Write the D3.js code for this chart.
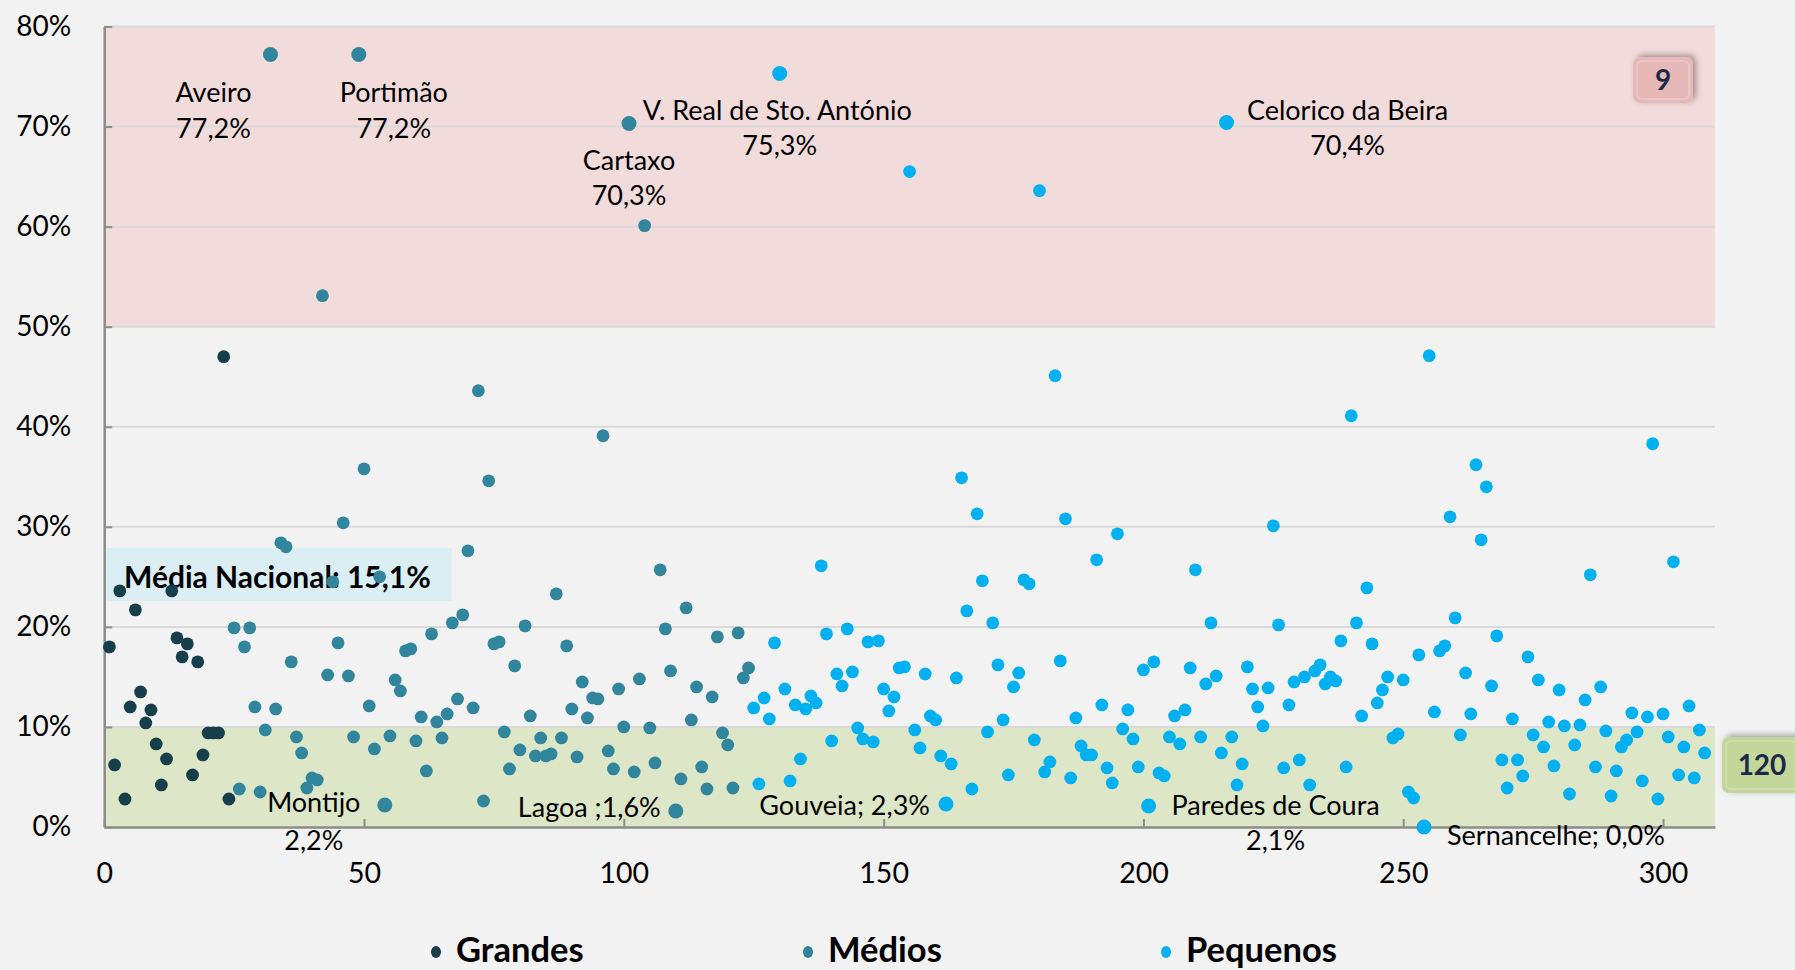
<!DOCTYPE html>
<html>
<head>
<meta charset="utf-8">
<script src="https://cdn.jsdelivr.net/npm/d3@7"></script>
<style>
  html, body { margin: 0; padding: 0; background: #F2F2F2; }
  svg { display: block; font-family: Lato, "Open Sans", sans-serif; }
</style>
</head>
<body>
<svg id="chart" width="1795" height="970"></svg>
<script>
// ---------------- DATA ----------------
// Percentages per municipality, ordered by rank index (1..308), grouped by size
const grandes = [18.0, 6.2, 23.6, 2.8, 12.0, 21.7, 13.5, 10.4, 11.7, 8.3, 4.2, 6.8, 23.6, 18.9, 17.0, 18.3, 5.2, 16.5, 7.2, 9.4, 9.4, 9.4, 47.0, 2.8];

const medios = [
  19.9, 3.8, 18.0, 19.9, 12.0, 3.5, 9.7, 77.2, 11.8, 28.4,
  28.0, 16.5, 9.0, 7.4, 3.9, 4.9, 4.7, 53.1, 15.2, 24.5,
  18.4, 30.4, 15.1, 9.0, 77.2, 35.8, 12.1, 7.8, 25.0, 2.2,
  9.1, 14.7, 13.6, 17.6, 17.8, 8.6, 11.0, 5.6, 19.3, 10.5,
  8.9, 11.3, 20.4, 12.8, 21.2, 27.6, 11.9, 43.6, 2.6, 34.6,
  18.3, 18.5, 9.5, 5.8, 16.1, 7.7, 20.1, 11.1, 7.1, 8.9,
  7.1, 7.3, 23.3, 8.9, 18.1, 11.8, 7.0, 14.5, 10.9, 12.9,
  12.8, 39.1, 7.6, 5.8, 13.8, 10.0, 70.3, 5.5, 14.8, 60.1,
  9.9, 6.4, 25.7, 19.8, 15.6, 1.6, 4.8, 21.9, 10.7, 14.0,
  6.0, 3.8, 13.0, 19.0, 9.4, 8.2, 3.9, 19.4, 14.9, 15.9
];

const pequenos = [
  11.9, 4.3, 12.9, 10.8, 18.4, 75.3, 13.8, 4.6, 12.2, 6.8,
  11.8, 13.1, 12.4, 26.1, 19.3, 8.6, 15.3, 14.1, 19.8, 15.5,
  9.9, 8.8, 18.5, 8.5, 18.6, 13.8, 11.6, 13.0, 15.9, 16.0,
  65.5, 9.7, 7.9, 15.3, 11.1, 10.7, 7.1, 2.3, 6.3, 14.9,
  34.9, 21.6, 3.8, 31.3, 24.6, 9.5, 20.4, 16.2, 10.7, 5.2,
  14.0, 15.4, 24.7, 24.3, 8.7, 63.6, 5.5, 6.5, 45.1, 16.6,
  30.8, 4.9, 10.9, 8.1, 7.2, 7.2, 26.7, 12.2, 5.9, 4.4,
  29.3, 9.8, 11.7, 8.8, 6.0, 15.7, 2.1, 16.5, 5.4, 5.1,
  9.0, 11.1, 8.3, 11.7, 15.9, 25.7, 9.0, 14.3, 20.4, 15.1,
  7.4, 70.4, 9.0, 4.2, 6.3, 16.0, 13.8, 12.0, 10.1, 13.9,
  30.1, 20.2, 5.9, 12.2, 14.5, 6.7, 15.0, 4.2, 15.6, 16.2,
  14.3, 15.0, 14.6, 18.6, 6.0, 41.1, 20.4, 11.1, 23.9, 18.3,
  12.4, 13.7, 15.0, 8.9, 9.3, 14.7, 3.5, 2.9, 17.2, 0.0,
  47.1, 11.5, 17.6, 18.1, 31.0, 20.9, 9.2, 15.4, 11.3, 36.2,
  28.7, 34.0, 14.1, 19.1, 6.7, 3.9, 10.8, 6.7, 5.1, 17.0,
  9.2, 14.7, 8.0, 10.5, 6.1, 13.7, 10.1, 3.3, 8.2, 10.2,
  12.7, 25.2, 6.0, 14.0, 9.6, 3.1, 5.6, 8.0, 8.7, 11.4,
  9.5, 4.6, 11.0, 38.3, 2.8, 11.3, 9.0, 26.5, 5.2, 8.0,
  12.1, 4.9, 9.7, 7.4
];

const seriesNames = ["Grandes", "Médios", "Pequenos"];
const yTicks = [0, 10, 20, 30, 40, 50, 60, 70, 80];
const xTicks = [0, 50, 100, 150, 200, 250, 300];

// Highlighted municipalities (rank index, name, value text)
const hlIndex = [32, 49, 101, 130, 216, 54, 110, 162, 201, 254];
const hlName  = ["Aveiro", "Portimão", "Cartaxo", "V. Real de Sto. António", "Celorico da Beira",
                 "Montijo", "Lagoa", "Gouveia", "Paredes de Coura", "Sernancelhe"];
const hlValue = ["77,2%", "77,2%", "70,3%", "75,3%", "70,4%", "2,2%", "1,6%", "2,3%", "2,1%", "0,0%"];

const nationalAvgLabel = "Média Nacional: 15,1%";
const countAbove50 = "9";
const countBelow10 = "120";

// ---------------- LAYOUT ----------------
const W = 1795, H = 970;
const plot = { left: 104.2, right: 1715, top: 26.5, bottom: 827 };
const colors = { Grandes: "#173F4B", "Médios": "#31859C", Pequenos: "#00B0F0" };

const svg = d3.select("#chart");
const x = d3.scaleLinear().domain([0, 310]).range([plot.left, plot.right]);
const y = d3.scaleLinear().domain([0, 80]).range([plot.bottom, plot.top]);

// defs: shadow for count boxes
const defs = svg.append("defs");
const f = defs.append("filter").attr("id", "shadow").attr("x", "-30%").attr("y", "-40%").attr("width", "170%").attr("height", "180%");
f.append("feDropShadow").attr("dx", 3).attr("dy", -2).attr("stdDeviation", 3).attr("flood-color", "#000").attr("flood-opacity", 0.35);

// background
svg.append("rect").attr("width", W).attr("height", H).attr("fill", "#F2F2F2");

// bands
svg.append("rect")
  .attr("x", x(0)).attr("y", y(80)).attr("width", x(310) - x(0)).attr("height", y(50) - y(80))
  .attr("fill", "#F2DCDB");
svg.append("rect")
  .attr("x", x(0)).attr("y", y(10)).attr("width", x(310) - x(0)).attr("height", y(0) - y(10))
  .attr("fill", "#DDE7C7");

// gridlines
svg.append("g").selectAll("line").data(yTicks.filter(d => d > 0)).join("line")
  .attr("x1", x(0)).attr("x2", x(310))
  .attr("y1", d => y(d)).attr("y2", d => y(d))
  .attr("stroke", "#D9D9D9").attr("stroke-width", 2);

// axes
const yAxis = d3.axisLeft(y).tickValues(yTicks).tickFormat(d => d + "%")
  .tickSizeInner(-8).tickSizeOuter(0).tickPadding(33);
const gy = svg.append("g").attr("transform", `translate(${x(0)},0)`).call(yAxis);
gy.select(".domain").attr("stroke", "#8C8C8C").attr("stroke-width", 2.5);
gy.selectAll(".tick line").attr("stroke", "#8C8C8C").attr("stroke-width", 2);
gy.selectAll(".tick text").attr("font-size", 28).attr("fill", "#000").attr("font-family", "Lato");

const xAxis = d3.axisBottom(x).tickValues(xTicks).tickFormat(d3.format("d"))
  .tickSizeInner(-8).tickSizeOuter(0).tickPadding(36);
const gx = svg.append("g").attr("transform", `translate(0,${y(0)})`).call(xAxis);
gx.select(".domain").attr("stroke", "#8C8C8C").attr("stroke-width", 2.5);
gx.selectAll(".tick line").attr("stroke", "#8C8C8C").attr("stroke-width", 2);
gx.selectAll(".tick text").attr("font-size", 28.5).attr("fill", "#000").attr("font-family", "Lato");

// national average label box
svg.append("rect")
  .attr("x", 106.7).attr("y", 548).attr("width", 345).attr("height", 53)
  .attr("fill", "#DAEEF3");
svg.append("text")
  .attr("x", 124).attr("y", 588)
  .attr("font-size", 30).attr("font-weight", "bold").attr("fill", "#000")
  .text(nationalAvgLabel);

// points
const points = [];
grandes.forEach((v, i) => points.push({ idx: i + 1, v, s: "Grandes" }));
medios.forEach((v, i) => points.push({ idx: grandes.length + i + 1, v, s: "Médios" }));
pequenos.forEach((v, i) => points.push({ idx: grandes.length + medios.length + i + 1, v, s: "Pequenos" }));

svg.append("g").selectAll("circle").data(points).join("circle")
  .attr("cx", d => x(d.idx)).attr("cy", d => y(d.v))
  .attr("r", d => hlIndex.includes(d.idx) ? 7.5 : 6.4)
  .attr("fill", d => colors[d.s]);

// annotation labels
const byIdx = Object.fromEntries(points.map(p => [p.idx, p]));
const lblStyle = (t) => t.attr("font-size", 27).attr("fill", "#000");
const labelLayout = {
  "Aveiro":                  { a: "middle", dx: -57, dy1: 47,  dy2: 83 },
  "Portimão":                { a: "middle", dx: 35,  dy1: 47,  dy2: 83 },
  "Cartaxo":                 { a: "middle", dx: 0,   dy1: 46,  dy2: 81 },
  "V. Real de Sto. António": { a: "middle", dx: 0,   dy1: 46,  dy2: 81, l1x: "start", l1dx: -137 },
  "Celorico da Beira":       { a: "middle", dx: 121, dy1: -3,  dy2: 32 },
  "Montijo":                 { a: "middle", dx: -71, dy1: 7,   dy2: 45 },
  "Lagoa":                   { a: "end",    dx: -15, dy1: 6,   single: n => n + " ;" },
  "Gouveia":                 { a: "end",    dx: -16, dy1: 11,  single: n => n + "; " },
  "Paredes de Coura":        { a: "middle", dx: 127, dy1: 9,   dy2: 44 },
  "Sernancelhe":             { a: "start",  dx: 23,  dy1: 18,  single: n => n + "; " }
};
const ann = svg.append("g");
hlIndex.forEach((idx, k) => {
  const p = byIdx[idx];
  const L = labelLayout[hlName[k]];
  const px = x(p.idx), py = y(p.v);
  if (L.single) {
    lblStyle(ann.append("text"))
      .attr("x", px + L.dx).attr("y", py + L.dy1).attr("text-anchor", L.a)
      .text(L.single(hlName[k]) + hlValue[k]);
  } else {
    const t1 = lblStyle(ann.append("text"));
    if (L.l1x) {
      t1.attr("x", px + L.l1dx).attr("text-anchor", L.l1x);
    } else {
      t1.attr("x", px + L.dx).attr("text-anchor", L.a);
    }
    t1.attr("y", py + L.dy1).text(hlName[k]);
    lblStyle(ann.append("text"))
      .attr("x", px + L.dx).attr("y", py + L.dy2).attr("text-anchor", L.a)
      .text(hlValue[k]);
  }
});

// count boxes
function countBox(cx, cy, w, h, fill, label) {
  const g = svg.append("g");
  g.append("rect").attr("x", cx - w / 2).attr("y", cy - h / 2).attr("width", w).attr("height", h)
    .attr("rx", 7).attr("fill", fill).attr("filter", "url(#shadow)");
  g.append("rect").attr("x", cx - w / 2 + 4).attr("y", cy - h / 2 + 4).attr("width", w - 8).attr("height", h - 8)
    .attr("rx", 5).attr("fill", "none").attr("stroke", "#fff").attr("stroke-opacity", 0.25).attr("stroke-width", 1.5);
  g.append("text").attr("x", cx).attr("y", cy).attr("dy", "0.36em").attr("text-anchor", "middle")
    .attr("font-size", 28).attr("font-weight", "bold").attr("fill", "#1A2B48").text(label);
}
countBox(1663, 80, 60, 46, "#E6B9B8", countAbove50);
countBox(1762, 765, 80, 56, "#C4D79B", countBelow10);

// legend
const legendX = [436, 808, 1166];
const lg = svg.append("g");
seriesNames.forEach((s, i) => {
  lg.append("ellipse").attr("cx", legendX[i]).attr("cy", 952).attr("rx", 5).attr("ry", 6)
    .attr("fill", colors[s]);
  lg.append("text").attr("x", legendX[i] + 20).attr("y", 962)
    .attr("font-size", 34.5).attr("font-weight", "bold").attr("fill", "#000").text(s);
});
</script>
</body>
</html>
